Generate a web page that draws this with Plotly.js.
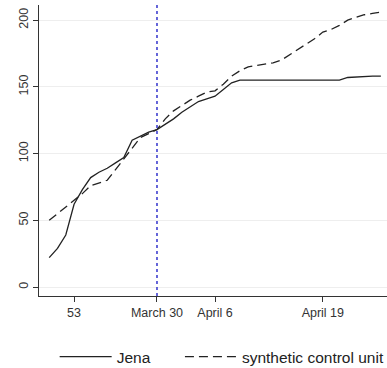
<!DOCTYPE html>
<html>
<head>
<meta charset="utf-8">
<script src="https://cdn.plot.ly/plotly-3.0.1.min.js"></script>
<style>html,body{margin:0;padding:0;background:#fff;}#chart{width:387px;height:368px;}</style>
</head>
<body>
<div id="chart"></div>
<script>
// days relative to March 30 (treatment date)
var days = [-13,-12,-11,-10,-9,-8,-7,-6,-5,-4,-3,-2,-1,0,1,2,3,4,5,6,7,8,9,10,11,12,13,14,15,16,17,18,19,20,21,22,23,24,25,26,27];
var jena = [22,29,39,62,73,82,86,89,93,97,110,113,116,118,122,126,131,135,139,141,143,148,153,155,155,155,155,155,155,155,155,155,155,155,155,155,157,157.5,158,158,158];
var synthetic = [50,55,60,65,70,76,78,80,88,96,104,112,115,118,126,132,136,140,143,146,147,152,158,162,165,166,167,168,170,174,178,182,186,191,193,196,200,202,204,205,206];
var tickPositions = [-10,0,7,20];
var tickLabels = ["53","March 30","April 6","April 19"];
var treatmentDay = 0;

var traces = [
  {x: days, y: jena, type: 'scatter', mode: 'lines', name: 'Jena', legend: 'legend',
   line: {color: '#222', width: 1.3}},
  {x: days, y: synthetic, type: 'scatter', mode: 'lines', name: 'synthetic control unit', legend: 'legend2',
   line: {color: '#222', width: 1.3, dash: '9px,5px'}}
];

var legendBase = {orientation: 'h', xanchor: 'left', y: -0.21, yanchor: 'middle',
                  itemwidth: 52, bgcolor: 'rgba(0,0,0,0)', font: {size: 15.5, color: '#222'}};

var layout = {
  width: 387, height: 368,
  margin: {l: 39, r: 0, t: 5, b: 72, autoexpand: false},
  paper_bgcolor: '#fff', plot_bgcolor: '#fff',
  font: {family: 'Liberation Sans, Arial, sans-serif', size: 12, color: '#333'},
  showlegend: true,
  legend: Object.assign({}, legendBase, {x: 0.045}),
  legend2: Object.assign({}, legendBase, {x: 0.405}),
  xaxis: {range: [-14.23, 27.74], tickvals: tickPositions, ticktext: tickLabels,
          showgrid: false, zeroline: false, showline: true, linecolor: '#333', linewidth: 1,
          ticks: 'outside', ticklen: 5, tickcolor: '#333', tickfont: {size: 12.5, color: '#333'}},
  yaxis: {range: [-6.7, 211.3], tickvals: [0,50,100,150,200], tickangle: -90,
          showgrid: true, gridcolor: '#eeeeee', gridwidth: 1, zeroline: false,
          showline: true, linecolor: '#333', linewidth: 1,
          ticks: 'outside', ticklen: 5, tickcolor: '#333', tickfont: {size: 12.5, color: '#333'}},
  shapes: [{type: 'line', xref: 'x', yref: 'paper', x0: treatmentDay, x1: treatmentDay, y0: 0, y1: 1,
            line: {color: '#3333cc', width: 1.5, dash: 'dot'}}]
};

Plotly.newPlot('chart', traces, layout, {displayModeBar: false, staticPlot: true});
</script>
</body>
</html>
